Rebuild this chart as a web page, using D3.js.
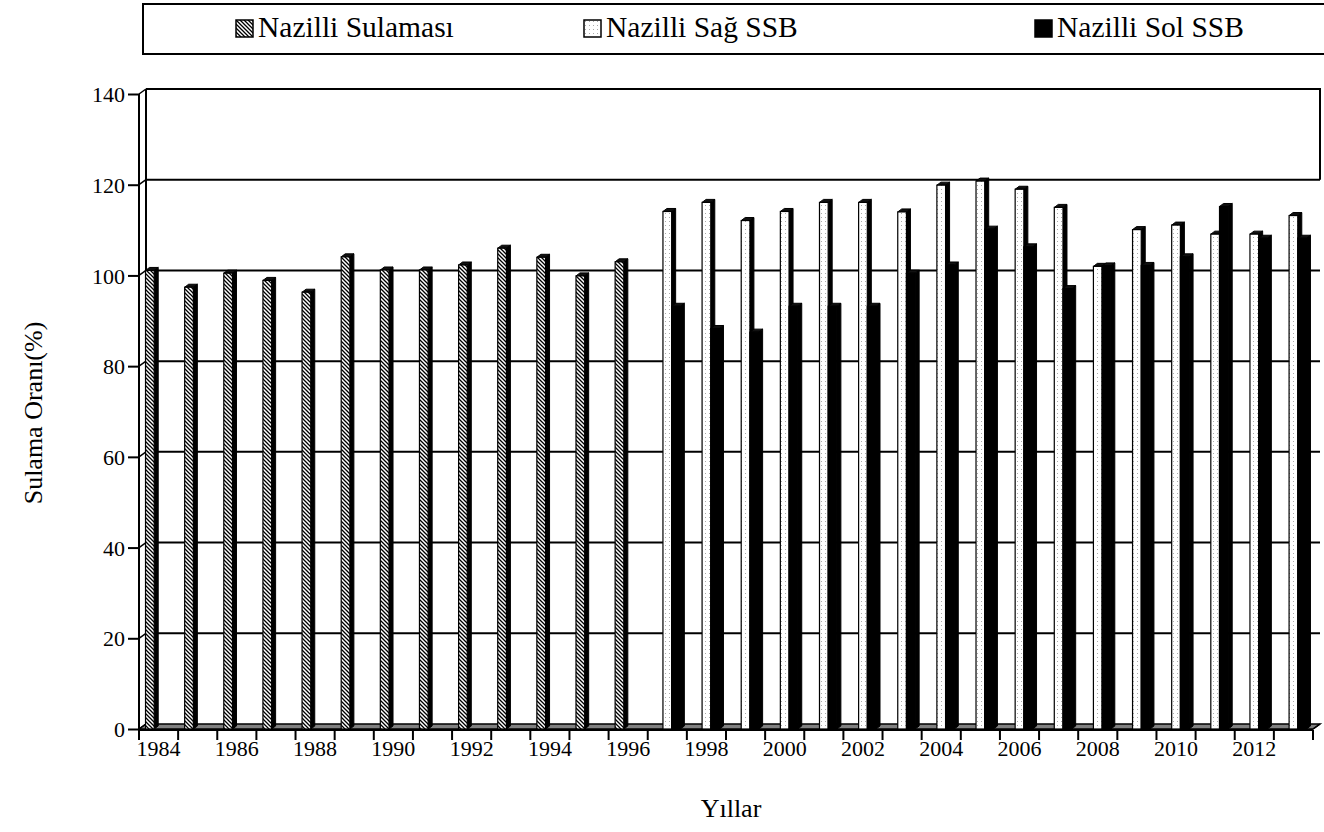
<!DOCTYPE html>
<html><head><meta charset="utf-8">
<script src="https://cdn.jsdelivr.net/npm/d3@7"></script>
<style>body{margin:0;background:#fff}svg{display:block}text{font-family:"Liberation Serif","Times New Roman","DejaVu Serif",serif;fill:#000}</style>
</head><body><svg id="c" width="1324" height="832"></svg>
<script>
const years=[1984,1985,1986,1987,1988,1989,1990,1991,1992,1993,1994,1995,1996,1997,1998,1999,2000,2001,2002,2003,2004,2005,2006,2007,2008,2009,2010,2011,2012,2013];
const seriesNames=["Nazilli Sulaması","Nazilli Sağ SSB","Nazilli Sol SSB"];
const sulamasi=[101.1,97.4,100.5,98.9,96.3,104.1,101.2,101.2,102.3,106,104,99.9,103,null,null,null,null,null,null,null,null,null,null,null,null,null,null,null,null,null];
const sag=[null,null,null,null,null,null,null,null,null,null,null,null,null,114.1,116.1,112.1,114.1,116.1,116.1,114,119.9,120.8,119,115,102,110.1,111.1,109.1,109.1,113.2];
const sol=[null,null,null,null,null,null,null,null,null,null,null,null,null,93.2,88.3,87.5,93.2,93.2,93.2,100.5,102.3,110.2,106.3,97.1,102.1,102.2,104.1,115.2,108.2,108.2];
const yTicks=[0,20,40,60,80,100,120,140];
const labelYears=years.filter(y=>y%2===0);

const FF='"Liberation Serif","Times New Roman","DejaVu Serif",serif';
const svg=d3.select("#c");
const defs=svg.append("defs");
const hp=defs.append("pattern").attr("id","hatch").attr("patternUnits","userSpaceOnUse").attr("width",4).attr("height",4);
hp.append("rect").attr("width",4).attr("height",4).attr("fill","#fff");
hp.append("path").attr("d","M-1,-1L5,5M3,-1L5,1M-1,3L1,5").attr("stroke","#000").attr("stroke-width",1.3);
const dp=defs.append("pattern").attr("id","dots").attr("patternUnits","userSpaceOnUse").attr("width",4).attr("height",4);
dp.append("rect").attr("width",4).attr("height",4).attr("fill","#fff");
dp.append("rect").attr("x",1).attr("y",1).attr("width",1).attr("height",1).attr("fill","#aaa");

const X0=139,X1=1313,WX=7,WY=5,BX=4,BY=3;
const x=d3.scaleBand().domain(years).range([X0,X1]).padding(0);
const xs=d3.scaleBand().domain(seriesNames).range([0,x.bandwidth()]).paddingInner(0).paddingOuter(0.75);
const y=d3.scaleLinear().domain([0,140]).range([729,94]);

const y0=y(0);
svg.append("path").attr("d",`M${X0},${y0}L${X1},${y0}L${X1+WX},${y0-WY}L${X0+WX},${y0-WY}Z`).attr("fill","#808080").attr("stroke","#000").attr("stroke-width",1.5);
yTicks.filter(v=>v>0).forEach(v=>{
  svg.append("line").attr("x1",X0+WX).attr("x2",X1+WX).attr("y1",y(v)-WY).attr("y2",y(v)-WY).attr("stroke","#000").attr("stroke-width",2);
  svg.append("line").attr("x1",X0).attr("x2",X0+WX).attr("y1",y(v)).attr("y2",y(v)-WY).attr("stroke","#000").attr("stroke-width",1.5);
});
svg.append("line").attr("x1",X0).attr("x2",X0+WX).attr("y1",y0).attr("y2",y0-WY).attr("stroke","#000").attr("stroke-width",1.5);
svg.append("line").attr("x1",X0+WX).attr("x2",X0+WX).attr("y1",y(140)-WY).attr("y2",y0-WY).attr("stroke","#000").attr("stroke-width",2);
svg.append("line").attr("x1",X1+WX).attr("x2",X1+WX).attr("y1",y(140)-WY-1).attr("y2",y(120)-WY).attr("stroke","#000").attr("stroke-width",2);

const fills={"Nazilli Sulaması":"url(#hatch)","Nazilli Sağ SSB":"url(#dots)","Nazilli Sol SSB":"#000"};
const data=[sulamasi,sag,sol];
const bars=[];
years.forEach((yr,i)=>seriesNames.forEach((s,j)=>{const v=data[j][i];if(v!=null)bars.push({yr,s,v});}));
const g=svg.append("g");
bars.forEach(b=>{
  const bx=x(b.yr)+xs(b.s),w=xs.bandwidth(),top=y(b.v);
  const bg=g.append("g");
  bg.append("path").attr("d",`M${bx+w},${top}L${bx+w+BX},${top-BY}L${bx+w+BX},${y0-BY}L${bx+w},${y0}Z`).attr("fill","#000").attr("stroke","#000").attr("stroke-width",1);
  bg.append("path").attr("d",`M${bx},${top}L${bx+BX},${top-BY}L${bx+w+BX},${top-BY}L${bx+w},${top}Z`).attr("fill","#111").attr("stroke","#000").attr("stroke-width",1);
  bg.append("rect").attr("x",bx).attr("y",top).attr("width",w).attr("height",y0-top).attr("fill",fills[b.s]).attr("stroke","#000").attr("stroke-width",1.2);
});

svg.append("line").attr("x1",X0).attr("x2",X0).attr("y1",y(140)).attr("y2",y0+1).attr("stroke","#000").attr("stroke-width",2);
const ya=svg.append("g").attr("transform",`translate(${X0},0)`).call(d3.axisLeft(y).tickValues(yTicks).tickSize(11).tickPadding(3).tickFormat(d3.format("d")));
ya.attr("font-family",FF).attr("font-size",22);
ya.select(".domain").remove();
ya.selectAll("line").attr("stroke-width",2);
ya.selectAll("text").style("font-family",FF).style("font-size","22px").attr("dy","0.35em");
svg.append("line").attr("x1",X0).attr("x2",X1).attr("y1",y0+1).attr("y2",y0+1).attr("stroke","#000").attr("stroke-width",2);
svg.append("line").attr("x1",X1).attr("x2",X1+WX).attr("y1",y0).attr("y2",y0-WY).attr("stroke","#000").attr("stroke-width",1.5);
const bounds=years.map(d=>x(d)).concat([X1]);
svg.selectAll(".xt").data(bounds).enter().append("line").attr("x1",d=>d).attr("x2",d=>d).attr("y1",y0+1).attr("y2",y0+11).attr("stroke","#000").attr("stroke-width",2);
svg.selectAll(".xl").data(labelYears).enter().append("text").attr("x",d=>x(d)+x.bandwidth()/2).attr("y",756).attr("text-anchor","middle").style("font-size","22px").text(d=>d);

svg.append("text").attr("x",731).attr("y",817).attr("text-anchor","middle").style("font-size","26px").text("Yıllar");
svg.append("text").attr("transform","translate(42,413) rotate(-90)").attr("text-anchor","middle").style("font-size","26px").text("Sulama Oranı(%)");

svg.append("rect").attr("x",143).attr("y",4).attr("width",1200).attr("height",50).attr("fill","#fff").attr("stroke","#000").attr("stroke-width",2);
const legX=[236,584,1035];
seriesNames.forEach((s,i)=>{
  svg.append("rect").attr("x",legX[i]).attr("y",20).attr("width",17).attr("height",17).attr("fill",fills[s]).attr("stroke","#000").attr("stroke-width",1.5);
  svg.append("text").attr("x",legX[i]+22).attr("y",37).style("font-size","29.5px").text(s);
});
</script></body></html>
